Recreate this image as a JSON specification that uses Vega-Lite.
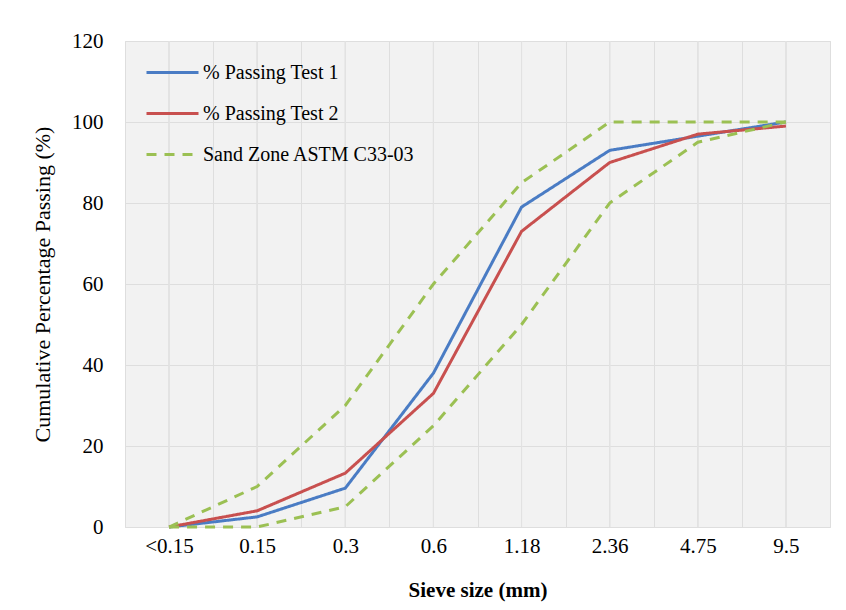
{
  "$schema": "https://vega.github.io/schema/vega-lite/v6.json",
  "width": 705,
  "height": 486,
  "autosize": {"type": "none"},
  "padding": {"left": 125, "top": 41, "right": 16, "bottom": 83},
  "background": "white",
  "config": {
    "font": "Liberation Serif",
    "view": {"fill": "#f2f2f2", "stroke": "#dedede"}
  },
  "data": {
    "values": [
      {"series": "% Passing Test 1", "bound": "t1", "size": "<0.15", "value": 0},
      {"series": "% Passing Test 1", "bound": "t1", "size": "0.15", "value": 2.5},
      {"series": "% Passing Test 1", "bound": "t1", "size": "0.3", "value": 9.6},
      {"series": "% Passing Test 1", "bound": "t1", "size": "0.6", "value": 38},
      {"series": "% Passing Test 1", "bound": "t1", "size": "1.18", "value": 79},
      {"series": "% Passing Test 1", "bound": "t1", "size": "2.36", "value": 93},
      {"series": "% Passing Test 1", "bound": "t1", "size": "4.75", "value": 96.5},
      {"series": "% Passing Test 1", "bound": "t1", "size": "9.5", "value": 100},
      {"series": "% Passing Test 2", "bound": "t2", "size": "<0.15", "value": 0},
      {"series": "% Passing Test 2", "bound": "t2", "size": "0.15", "value": 4},
      {"series": "% Passing Test 2", "bound": "t2", "size": "0.3", "value": 13.3},
      {"series": "% Passing Test 2", "bound": "t2", "size": "0.6", "value": 33},
      {"series": "% Passing Test 2", "bound": "t2", "size": "1.18", "value": 73},
      {"series": "% Passing Test 2", "bound": "t2", "size": "2.36", "value": 90},
      {"series": "% Passing Test 2", "bound": "t2", "size": "4.75", "value": 97},
      {"series": "% Passing Test 2", "bound": "t2", "size": "9.5", "value": 99},
      {"series": "Sand Zone ASTM C33-03", "bound": "upper", "size": "<0.15", "value": 0},
      {"series": "Sand Zone ASTM C33-03", "bound": "upper", "size": "0.15", "value": 10},
      {"series": "Sand Zone ASTM C33-03", "bound": "upper", "size": "0.3", "value": 30},
      {"series": "Sand Zone ASTM C33-03", "bound": "upper", "size": "0.6", "value": 60},
      {"series": "Sand Zone ASTM C33-03", "bound": "upper", "size": "1.18", "value": 85},
      {"series": "Sand Zone ASTM C33-03", "bound": "upper", "size": "2.36", "value": 100},
      {"series": "Sand Zone ASTM C33-03", "bound": "upper", "size": "4.75", "value": 100},
      {"series": "Sand Zone ASTM C33-03", "bound": "upper", "size": "9.5", "value": 100},
      {"series": "Sand Zone ASTM C33-03", "bound": "lower", "size": "<0.15", "value": 0},
      {"series": "Sand Zone ASTM C33-03", "bound": "lower", "size": "0.15", "value": 0},
      {"series": "Sand Zone ASTM C33-03", "bound": "lower", "size": "0.3", "value": 5},
      {"series": "Sand Zone ASTM C33-03", "bound": "lower", "size": "0.6", "value": 25},
      {"series": "Sand Zone ASTM C33-03", "bound": "lower", "size": "1.18", "value": 50},
      {"series": "Sand Zone ASTM C33-03", "bound": "lower", "size": "2.36", "value": 80},
      {"series": "Sand Zone ASTM C33-03", "bound": "lower", "size": "4.75", "value": 95},
      {"series": "Sand Zone ASTM C33-03", "bound": "lower", "size": "9.5", "value": 100}
    ]
  },
  "encoding": {
    "x": {
      "field": "size",
      "type": "nominal",
      "sort": null,
      "bandPosition": 0.5,
      "scale": {
        "type": "band",
        "domain": ["<0.15", "0.15", "0.3", "0.6", "1.18", "2.36", "4.75", "9.5"],
        "paddingInner": 0,
        "paddingOuter": 0
      },
      "axis": {
        "title": "Sieve size (mm)",
        "titleFontSize": 21,
        "titleFontWeight": "bold",
        "titleColor": "black",
        "titlePadding": 23,
        "labelFontSize": 21,
        "labelColor": "black",
        "labelPadding": 8,
        "labelAngle": 0,
        "domain": false,
        "ticks": false,
        "grid": true,
        "tickBand": "extent",
        "gridColor": "#dedede",
        "gridWidth": 1
      }
    }
  },
  "layer": [
    {
      "mark": {"type": "rule", "color": "#e2e2e2", "strokeWidth": 1},
      "encoding": {
        "x": {"field": "size", "type": "nominal", "sort": null, "bandPosition": 0.5}
      }
    },
    {
      "mark": {"type": "line", "strokeWidth": 3},
      "encoding": {
        "y": {
          "field": "value",
          "type": "quantitative",
          "scale": {"domain": [0, 120]},
          "axis": {
            "values": [0, 20, 40, 60, 80, 100, 120],
            "title": "Cumulative  Percentage Passing (%)",
            "titleFontSize": 22,
            "titleFontWeight": "normal",
            "titleColor": "black",
            "titlePadding": 17,
            "labelFontSize": 21,
            "labelColor": "black",
            "labelPadding": 22,
            "domain": false,
            "ticks": false,
            "gridColor": "#dedede",
            "gridWidth": 1
          }
        },
        "color": {
          "field": "series",
          "type": "nominal",
          "scale": {
            "domain": ["% Passing Test 1", "% Passing Test 2", "Sand Zone ASTM C33-03"],
            "range": ["#4a7cc4", "#c8504f", "#9bc053"]
          },
          "legend": {
            "title": null,
            "orient": "none",
            "legendX": 20,
            "legendY": 4,
            "symbolType": "stroke",
            "symbolSize": 2704,
            "symbolStrokeWidth": 3,
            "labelFontSize": 20,
            "labelColor": "black",
            "labelLimit": 400,
            "labelOffset": 3,
            "rowPadding": 3
          }
        },
        "strokeDash": {
          "field": "series",
          "type": "nominal",
          "scale": {
            "domain": ["% Passing Test 1", "% Passing Test 2", "Sand Zone ASTM C33-03"],
            "range": [[1, 0], [1, 0], [10, 8]]
          },
          "legend": {
            "title": null,
            "orient": "none",
            "legendX": 20,
            "legendY": 4,
            "symbolType": "stroke",
            "symbolSize": 2704,
            "symbolStrokeWidth": 3,
            "labelFontSize": 20,
            "labelColor": "black",
            "labelLimit": 400,
            "labelOffset": 3,
            "rowPadding": 3
          }
        },
        "detail": {"field": "bound"}
      }
    }
  ]
}
